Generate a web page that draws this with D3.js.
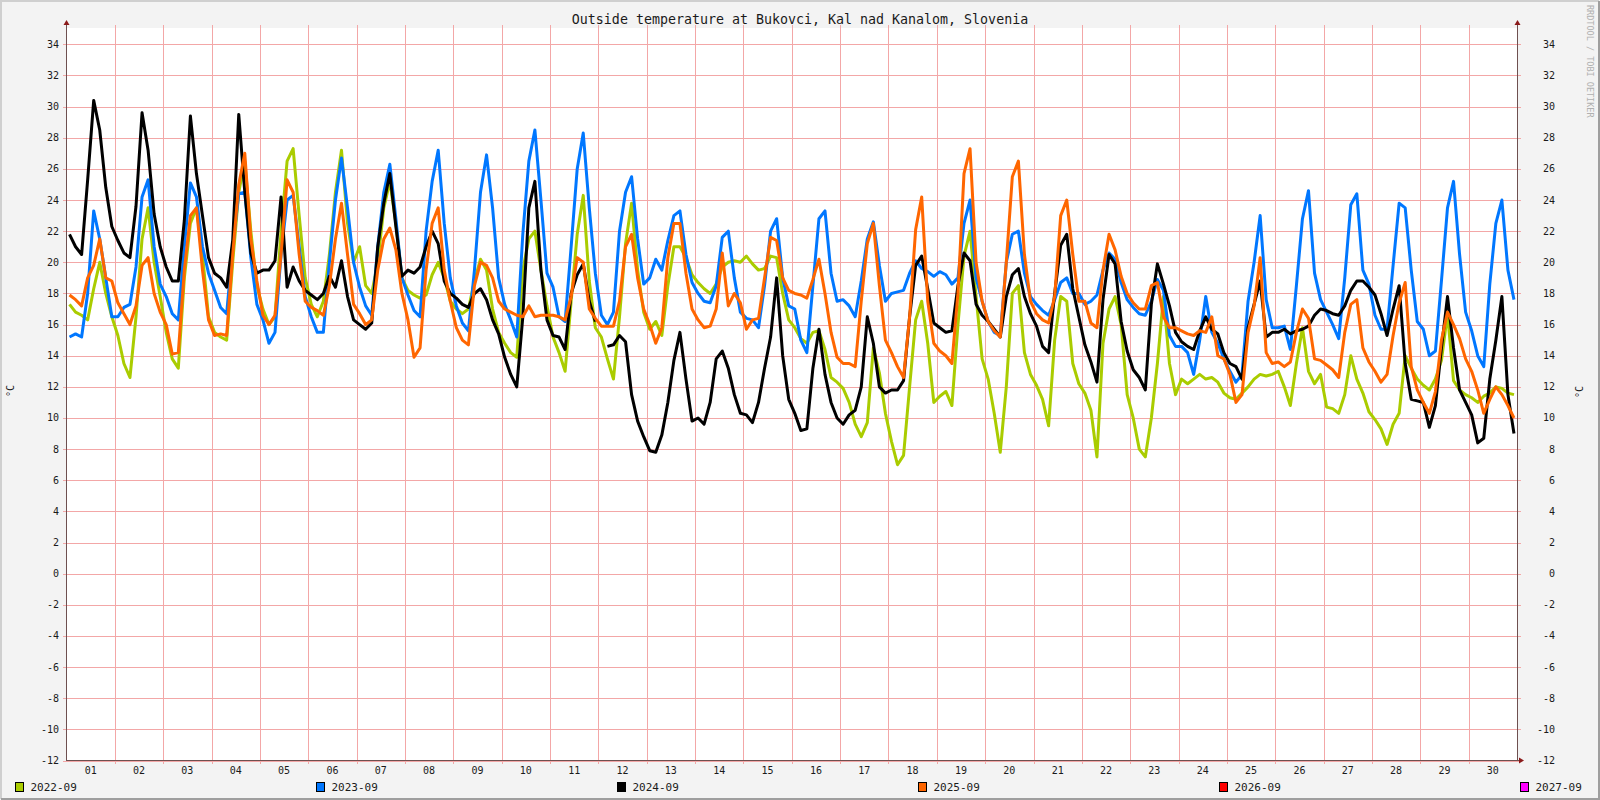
<!DOCTYPE html>
<html>
<head>
<meta charset="utf-8">
<script src="https://cdn.jsdelivr.net/npm/d3@7"></script>
<style>
  body { margin: 0; background: #f3f3f3; }
  svg { display: block; font-family: "DejaVu Sans Mono", monospace; }
</style>
</head>
<body>
<div id="container"></div>
<script>
var title = "Outside temperature at Bukovci, Kal nad Kanalom, Slovenia";
var dayLabels = d3.range(1, 31).map(function(d) { return d < 10 ? "0" + d : "" + d; });
var yTicks = d3.range(-12, 35, 2);
var legendNames = ["2022-09", "2023-09", "2024-09", "2025-09", "2026-09", "2027-09"];
var legendColors = ["#aacc00", "#0077ff", "#000000", "#ff6600", "#ff0000", "#ff00ff"];

// one reading every 3 hours, first one at 01:30 of day 1
var perDay = 8;

var temp2022 = [
  17.3,16.8,16.6,16.3,18.3,20.0,18.0,16.5, 15.3,13.5,12.6,16.5,21.5,23.5,20.0,17.8,
  15.5,13.8,13.2,19.0,22.5,23.5,20.5,16.5, 15.5,15.2,15.0,20.0,24.5,26.5,22.0,18.5,
  17.0,16.0,16.5,22.0,26.5,27.3,23.0,19.0, 17.3,16.5,17.5,20.5,24.5,27.2,22.5,20.0,
  21.0,18.5,18.0,20.0,23.5,25.2,22.5,19.0, 18.2,17.9,17.7,17.9,19.2,20.0,19.0,17.5,
  17.0,16.7,17.0,18.8,20.2,19.5,17.0,15.5, 14.8,14.2,13.9,19.5,21.5,22.0,19.5,17.2,
  15.2,14.2,13.0,17.5,21.8,24.3,18.8,15.8, 15.2,13.8,12.5,16.5,21.2,23.8,19.5,16.8,
  15.7,16.2,15.3,18.5,21.0,21.0,20.3,19.2, 18.7,18.3,18.0,18.6,19.7,20.0,20.1,20.0,
  20.4,19.9,19.5,19.6,20.4,20.3,18.0,16.3, 15.8,15.1,14.8,15.5,15.6,14.4,12.6,12.3,
  11.9,11.0,9.6,8.8,9.7,14.5,12.9,10.3,     8.5,7.0,7.6,12.0,16.3,17.5,14.8,11.0,
  11.4,11.7,10.8,16.0,20.4,22.0,17.8,13.8, 12.5,10.3,7.8,12.0,18.0,18.5,14.2,12.8,
  12.1,11.2,9.5,15.0,17.8,17.5,13.5,12.2,  11.6,10.5,7.5,14.8,17.0,17.8,16.0,11.5,
  10.0,8.0,7.5,10.0,13.5,17.8,13.5,11.5,   12.5,12.2,12.5,12.8,12.5,12.6,12.3,11.6,
  11.3,11.2,11.6,12.0,12.5,12.8,12.7,12.8, 13.0,12.0,10.8,13.5,15.8,13.0,12.2,12.8,
  10.7,10.6,10.3,11.5,14.0,12.5,11.6,10.4, 9.9,9.3,8.3,9.6,10.3,14.0,13.2,12.5,
  12.1,11.8,12.5,13.7,16.7,12.4,11.8,11.5, 11.3,11.0,11.4,11.6,12.0,11.9,11.6,11.5
];

var temp2023 = [
  15.2,15.4,15.2,18.0,23.3,21.5,19.0,16.5, 16.5,17.1,17.3,19.7,24.2,25.3,21.0,18.6,
  17.8,16.7,16.3,21.0,25.1,24.2,21.0,19.3, 18.2,17.1,16.7,21.0,24.4,24.5,20.3,17.3,
  16.3,14.8,15.5,20.5,24.0,24.3,21.0,17.8, 16.5,15.5,15.5,20.0,24.0,26.7,23.5,20.0,
  18.4,17.2,16.6,21.0,24.5,26.3,22.8,19.0, 17.9,16.9,16.5,22.0,25.2,27.2,22.5,19.0,
  17.2,16.1,15.6,19.5,24.5,26.9,23.5,19.0, 17.3,16.3,15.2,21.8,26.5,28.5,24.0,19.3,
  18.4,16.5,16.2,21.0,26.0,28.3,23.5,19.3, 16.6,16.0,16.8,22.0,24.5,25.5,21.5,18.6,
  19.0,20.2,19.5,21.4,23.0,23.3,20.5,18.7, 18.0,17.5,17.4,18.5,21.6,22.0,19.0,16.8,
  16.4,16.3,15.8,18.5,22.0,22.8,19.0,17.2, 17.0,15.0,14.2,18.5,22.8,23.3,19.3,17.5,
  17.6,17.2,16.5,18.8,21.5,22.6,19.8,17.5, 18.0,18.1,18.2,19.3,20.1,19.6,19.4,19.1,
  19.4,19.2,18.6,19.0,22.5,24.0,19.0,17.5, 16.2,15.5,15.3,20.0,21.8,22.0,19.3,17.8,
  17.3,16.9,16.6,17.6,18.7,19.0,18.0,18.0, 17.3,17.5,17.9,19.5,20.6,20.2,18.7,17.6,
  17.1,16.7,16.6,17.5,18.9,18.2,15.3,14.6, 14.6,14.2,12.8,15.0,17.8,15.5,14.8,13.8,
  13.0,12.3,12.8,17.5,20.0,23.0,17.6,15.8, 15.8,15.9,14.4,18.5,22.8,24.6,19.3,17.6,
  16.8,16.0,15.1,19.0,23.7,24.4,19.5,18.6, 16.6,15.7,15.7,19.8,23.8,23.5,19.5,16.2,
  15.7,14.0,14.3,18.8,23.5,25.2,20.5,16.8, 15.6,14.0,13.3,18.6,22.5,24.0,19.5,17.6
];

var temp2024 = [
  21.8,21.0,20.5,25.3,30.4,28.5,24.8,22.3, 21.4,20.6,20.3,23.6,29.6,27.2,23.1,21.0,
  19.7,18.8,18.8,22.7,29.4,25.7,23.0,20.3, 19.3,19.0,18.4,21.4,29.5,24.5,20.6,19.3,
  19.5,19.5,20.1,24.2,18.4,19.7,18.8,18.2, 17.9,17.6,18.0,19.1,18.4,20.1,17.8,16.3,
  16.0,15.7,16.1,21.0,23.8,25.7,22.3,19.1, 19.5,19.3,19.7,21.0,22.0,21.2,18.8,18.0,
  17.7,17.3,17.1,18.0,18.3,17.6,16.3,15.4, 13.9,12.8,12.0,16.5,23.5,25.2,19.5,16.3,
  15.3,15.2,14.4,18.0,19.2,19.9,17.5,16.2, null,14.6,14.7,15.3,14.9,11.5,9.8,8.8,
  7.9,7.8,8.9,11.0,13.7,15.5,12.5,9.8,     10.0,9.6,11.0,13.8,14.3,13.2,11.5,10.3,
  10.2,9.7,11.0,13.2,15.2,19.0,14.0,11.2,  10.3,9.2,9.3,13.2,15.7,12.8,11.0,10.0,
  9.6,10.2,10.5,12.0,16.5,14.8,12.0,11.6,  11.8,11.8,12.4,16.5,19.8,20.4,18.3,16.1,
  15.8,15.5,15.6,18.5,20.6,20.1,17.3,16.6, 16.2,15.7,15.2,17.8,19.2,19.6,17.8,16.7,
  15.9,14.6,14.2,18.0,21.1,21.8,18.3,16.5, 14.7,13.6,12.3,17.6,20.5,19.9,16.2,14.3,
  13.1,12.6,11.8,17.3,19.9,18.6,17.2,15.5, 14.9,14.6,14.4,15.6,16.5,15.7,15.4,14.2,
  13.5,13.3,12.5,15.8,17.3,18.8,15.2,15.5, 15.5,15.7,15.4,15.6,15.7,15.9,16.6,17.0,
  16.9,16.7,16.6,17.2,18.2,18.8,18.8,18.4, 17.9,16.7,15.3,17.0,18.5,13.5,11.2,11.1,
  11.0,9.4,10.8,14.5,17.8,14.5,11.8,11.0,  10.2,8.4,8.7,12.5,15.0,17.8,11.5,9.0
];

var temp2025 = [
  17.9,17.6,17.2,19.0,19.8,21.5,19.0,18.8, 17.4,16.7,16.0,17.2,19.8,20.3,18.0,16.8,
  16.0,14.1,14.2,19.5,23.0,23.5,19.5,16.3, 15.3,15.4,15.3,20.5,25.0,27.0,21.5,18.8,
  16.6,16.0,16.6,20.5,25.3,24.5,20.5,17.5, 17.1,16.9,16.6,18.5,21.5,23.8,20.5,17.3,
  16.7,16.0,16.3,19.5,21.5,22.2,20.8,18.0, 16.3,13.9,14.5,19.5,22.5,23.5,19.5,17.5,
  15.8,15.0,14.7,18.5,20.0,19.8,19.0,17.5, 17.0,16.8,16.6,16.5,17.2,16.5,16.6,16.6,
  16.6,16.5,16.3,17.8,20.3,20.0,17.0,16.4, 15.9,15.9,15.9,17.5,21.0,21.8,19.0,17.0,
  16.0,14.8,15.8,20.3,22.5,22.5,19.3,17.0, 16.3,15.8,15.9,17.0,20.6,17.2,18.0,17.4,
  15.7,16.3,16.4,19.0,21.6,21.4,19.0,18.2, 18.0,17.9,17.7,18.9,20.2,18.0,15.5,13.9,
  13.5,13.5,13.3,17.5,21.2,22.5,18.5,15.0, 14.2,13.3,12.6,16.5,22.1,24.2,17.5,14.8,
  14.3,14.0,13.5,18.0,25.7,27.3,20.0,17.5, 16.2,15.6,15.2,20.0,25.5,26.5,20.5,17.5,
  16.7,16.3,16.1,17.8,23.0,24.0,20.5,17.5, 17.5,16.1,15.8,19.5,21.8,20.8,19.1,18.0,
  17.4,17.0,17.0,18.5,18.7,16.5,15.8,15.8, 15.6,15.4,15.3,15.6,15.5,16.5,14.0,13.8,
  12.8,11.0,11.5,15.5,17.2,20.3,14.2,13.5, 13.6,13.3,13.6,15.5,17.0,16.4,13.8,13.7,
  13.4,13.1,12.6,15.5,17.3,17.6,14.5,13.6, 13.0,12.3,12.8,15.3,17.4,18.7,13.3,11.8,
  11.0,10.3,11.7,15.0,16.8,16.0,15.1,13.8, 13.0,11.8,10.3,11.2,12.0,11.5,10.8,10.0
];

var series = [temp2022, temp2023, temp2024, temp2025];

var svg = d3.select("#container")
  .append("svg")
  .attr("width", 1600)
  .attr("height", 800);

// background + 3d frame
svg.append("rect").attr("width", 1600).attr("height", 800).attr("fill", "#f3f3f3");
svg.append("path").attr("d", "M1,799V1H1599").attr("fill", "none")
  .attr("stroke", "#cfcfcf").attr("stroke-width", 2);
svg.append("path").attr("d", "M1,799H1599V1").attr("fill", "none")
  .attr("stroke", "#9e9e9e").attr("stroke-width", 2);

var x = d3.scaleLinear().domain([0, 30]).range([66.5, 1517]);
var y = d3.scaleLinear().domain([-12, 35.05]).range([760.5, 28]);
function crisp(v) { return Math.round(v) + 0.5; }

svg.append("rect")
  .attr("x", 67).attr("y", 28)
  .attr("width", 1450).attr("height", 732)
  .attr("fill", "#ffffff");

var gridColor = "#f3a7a7";

// horizontal grid (with little ticks outside both axes)
svg.append("g")
  .selectAll("line")
  .data(yTicks)
  .enter().append("line")
    .attr("x1", 63).attr("x2", 1521)
    .attr("y1", function(d) { return crisp(y(d)); })
    .attr("y2", function(d) { return crisp(y(d)); })
    .attr("stroke", gridColor);

// vertical grid at midnight
svg.append("g")
  .selectAll("line")
  .data(d3.range(1, 30))
  .enter().append("line")
    .attr("x1", function(d) { return crisp(x(d)); })
    .attr("x2", function(d) { return crisp(x(d)); })
    .attr("y1", 25).attr("y2", 764)
    .attr("stroke", gridColor);

// the data lines
var line = d3.line()
  .defined(function(d) { return d != null; })
  .x(function(d, i) { return x(i / perDay + 1.5 / 24); })
  .y(function(d) { return y(d); });

svg.append("g")
  .selectAll("path")
  .data(series)
  .enter().append("path")
    .attr("d", line)
    .attr("fill", "none")
    .attr("stroke", function(d, i) { return legendColors[i]; })
    .attr("stroke-width", 3)
    .attr("stroke-linejoin", "round");

// axes
var axisColor = "#6e5050";
var arrowColor = "#8b1a1a";
svg.append("line").attr("x1", 66.5).attr("x2", 66.5).attr("y1", 24).attr("y2", 761)
  .attr("stroke", axisColor);
svg.append("line").attr("x1", 1517.5).attr("x2", 1517.5).attr("y1", 24).attr("y2", 761)
  .attr("stroke", axisColor);
svg.append("line").attr("x1", 66).attr("x2", 1520).attr("y1", 760.5).attr("y2", 760.5)
  .attr("stroke", axisColor);
svg.append("path").attr("d", "M66.5,20L63.5,25H69.5Z").attr("fill", arrowColor);
svg.append("path").attr("d", "M1517.5,20L1514.5,25H1520.5Z").attr("fill", arrowColor);
svg.append("path").attr("d", "M1524,760.5L1519,757.5V763.5Z").attr("fill", arrowColor);

// y labels, both sides
svg.append("g")
  .selectAll("text")
  .data(yTicks)
  .enter().append("text")
    .attr("x", 59)
    .attr("y", function(d) { return y(d); })
    .attr("dy", "0.35em")
    .attr("text-anchor", "end")
    .attr("font-size", "10px")
    .attr("fill", "#1a1a1a")
    .text(function(d) { return d; });
svg.append("g")
  .selectAll("text")
  .data(yTicks)
  .enter().append("text")
    .attr("x", 1555)
    .attr("y", function(d) { return y(d); })
    .attr("dy", "0.35em")
    .attr("text-anchor", "end")
    .attr("font-size", "10px")
    .attr("fill", "#1a1a1a")
    .text(function(d) { return d; });

// x labels
svg.append("g")
  .selectAll("text")
  .data(dayLabels)
  .enter().append("text")
    .attr("x", function(d, i) { return x(i + 0.5); })
    .attr("y", 774)
    .attr("text-anchor", "middle")
    .attr("font-size", "10px")
    .attr("fill", "#1a1a1a")
    .text(function(d) { return d; });

svg.append("text")
  .attr("x", 800).attr("y", 24)
  .attr("text-anchor", "middle")
  .attr("font-size", "13.3px")
  .attr("fill", "#1a1a1a")
  .text(title);

svg.append("text")
  .attr("transform", "translate(14,391) rotate(-90)")
  .attr("text-anchor", "middle")
  .attr("font-size", "10px")
  .attr("fill", "#1a1a1a")
  .text("°C");
svg.append("text")
  .attr("transform", "translate(1583,392) rotate(-90)")
  .attr("text-anchor", "middle")
  .attr("font-size", "10px")
  .attr("fill", "#1a1a1a")
  .text("°C");

svg.append("text")
  .attr("transform", "translate(1587,5) rotate(90)")
  .attr("font-size", "8.5px")
  .attr("fill", "#b0b0b0")
  .text("RRDTOOL / TOBI OETIKER");

// legend
var legendItem = svg.append("g")
  .selectAll("g")
  .data(legendNames)
  .enter().append("g")
    .attr("transform", function(d, i) { return "translate(" + (15.5 + 301 * i) + ",782.5)"; });
legendItem.append("rect")
  .attr("width", 8).attr("height", 9)
  .attr("fill", function(d, i) { return legendColors[i]; })
  .attr("stroke", "#000");
legendItem.append("text")
  .attr("x", 15).attr("y", 8.5)
  .attr("font-size", "11px")
  .attr("fill", "#1a1a1a")
  .text(function(d) { return d; });
</script>
</body>
</html>
